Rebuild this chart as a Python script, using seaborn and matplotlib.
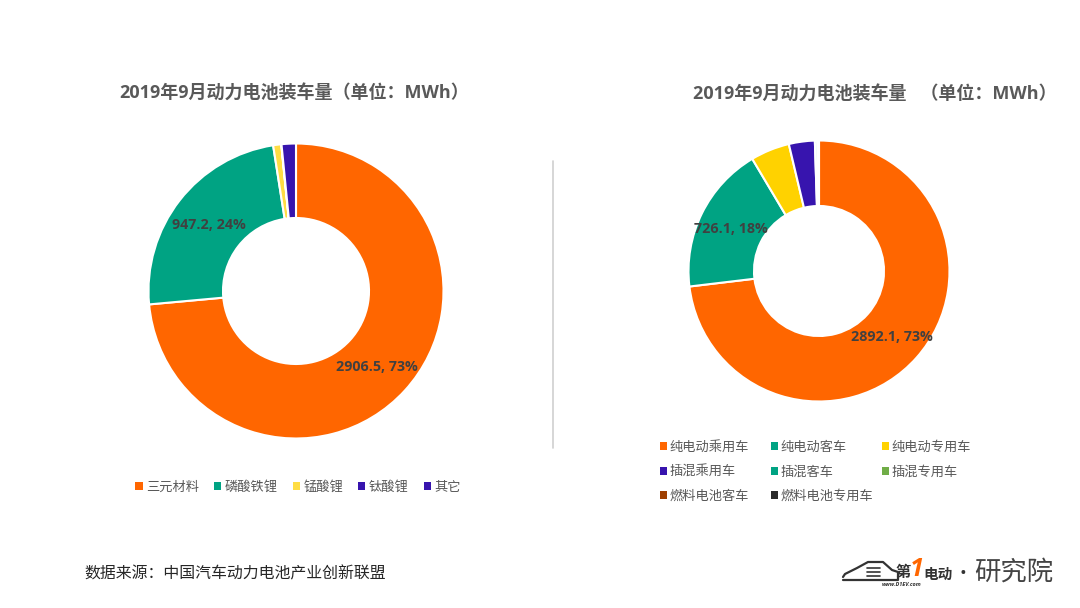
import matplotlib
matplotlib.use("Agg")
import matplotlib.pyplot as plt
from matplotlib.lines import Line2D
from matplotlib.patches import Patch
import numpy as np
import seaborn as sns

W, H = 1080, 608

# left donut
left_title = "2019年9月动力电池装车量\uff08单位\uff1aMWh\uff09"
left_names = ["三元材料", "磷酸铁锂", "锰酸锂", "钛酸锂", "其它"]
left_values = [2906.5, 947.2, 35, 1, 62]
left_labels = ["2906.5, 73%", "947.2, 24%"]
left_colors = ["#FF6600", "#00A383", "#FFDD44", "#3714AE", "#3714AE"]

# right donut
right_title = "2019年9月动力电池装车量   \uff08单位\uff1aMWh\uff09"
right_names = ["纯电动乘用车", "纯电动客车", "纯电动专用车", "插混乘用车", "插混客车",
               "插混专用车", "燃料电池客车", "燃料电池专用车"]
right_values = [2892.1, 726.1, 191, 127, 12, 2, 5, 1]
right_labels = ["2892.1, 73%", "726.1, 18%"]
right_colors = ["#FF6600", "#00A383", "#FFD200", "#3714AE", "#00A383",
                "#70AD47", "#9E3F00", "#2B2B2B"]

source_text = "数据来源\uff1a中国汽车动力电池产业创新联盟"

sns.set_theme(style="white")
plt.rcParams['font.family'] = ['Open Sans', 'Noto Sans CJK SC', 'DejaVu Sans']

fig = plt.figure(figsize=(W / 100, H / 100), dpi=100, facecolor="white")


def px(x, y):
    return x / W, 1 - y / H


def donut(cx, cy, r, r_in, values, colors, labels):
    ax = fig.add_axes([(cx - r - 2) / W, 1 - (cy + r + 2) / H, (2 * r + 4) / W, (2 * r + 4) / H])
    width = 1 - r_in / r
    wedges, _ = ax.pie(values, colors=sns.color_palette(colors, len(colors)), startangle=90,
                       counterclock=False, radius=1,
                       wedgeprops=dict(width=width, edgecolor="white", linewidth=1.5))
    lim = (r + 2) / r
    ax.set_xlim(-lim, lim)
    ax.set_ylim(-lim, lim)
    # value labels sit in the middle of the ring
    for w, txt in zip(wedges, labels):
        a = np.deg2rad((w.theta1 + w.theta2) / 2)
        rm = 1 - width / 2
        ax.text(rm * np.cos(a), rm * np.sin(a) - 1.5 / r, txt, ha="center", va="center",
                fontsize=10.3, fontweight="bold", color="#404040")
    return wedges


left_wedges = donut(296, 291, 147.5, 73, left_values, left_colors, left_labels)
right_wedges = donut(819, 271, 130.5, 65, right_values, right_colors, right_labels)

fig.text(*px(294, 93), left_title, ha="center", va="center", fontsize=13,
         fontweight="bold", color="#595959")
fig.text(*px(875, 94), right_title, ha="center", va="center", fontsize=13,
         fontweight="bold", color="#595959")

# divider
fig.add_artist(Line2D([553 / W, 553 / W], [1 - 161 / H, 1 - 448 / H], color="#D0D0D0", lw=1.2))


def square_handles(names, colors):
    return [Patch(facecolor=c, edgecolor="none", label=n) for n, c in zip(names, colors)]


fig.legend(handles=square_handles(left_names, left_colors), ncol=5, frameon=False,
           loc="center", bbox_to_anchor=px(298, 487), fontsize=9.5, labelcolor="#595959",
           handlelength=0.55, handleheight=0.55, handletextpad=0.25, columnspacing=1.15)

# the three legend columns sit on an even grid
right_handles = square_handles(right_names, right_colors)
columns = [[0, 3, 6], [1, 4, 7], [2, 5]]
column_x = [660, 771, 882]
for col, x in zip(columns, column_x):
    fig.legend(handles=[right_handles[i] for i in col], ncol=1, frameon=False,
               loc="upper left", bbox_to_anchor=px(x, 441), borderaxespad=0, borderpad=0,
               fontsize=9.5, labelcolor="#595959", handlelength=0.55, handleheight=0.55,
               handletextpad=0.15, labelspacing=0.86)

fig.text(*px(84, 574), source_text, ha="left", va="center", fontsize=11.45, color="#262626")

# logo
car_x = [843, 845, 857, 868, 883, 892, 898, 898, 843]
car_y = [577, 574, 568, 562, 562, 570, 572, 580, 580]
xs, ys = zip(*[px(a, b) for a, b in zip(car_x, car_y)])
fig.add_artist(Line2D(xs, ys, color="#333333", lw=1.6))
for y in (568, 572, 576):
    xs, ys = zip(px(867, y), px(880, y))
    fig.add_artist(Line2D(xs, ys, color="#333333", lw=1.2))
fig.text(*px(903, 573), "第", fontsize=11, fontweight="bold", style="italic", color="#333333",
         ha="center", va="center")
fig.text(*px(917, 569), "1", fontsize=18, fontweight="bold", style="italic", color="#FF6600",
         ha="center", va="center")
fig.text(*px(938, 575), "电动", fontsize=10.5, fontweight="bold", style="italic", color="#333333",
         ha="center", va="center")
fig.text(*px(902, 585), "www.D1EV.com", fontsize=4, fontweight="bold", style="italic", color="#333333",
         ha="center", va="center")
fig.text(*px(963, 574), "•", fontsize=13, color="#333333", ha="center", va="center")
fig.text(*px(1014, 573), "研究院", fontsize=19, color="#444444", ha="center", va="center")

fig.savefig("out.png", dpi=100, facecolor="white")
